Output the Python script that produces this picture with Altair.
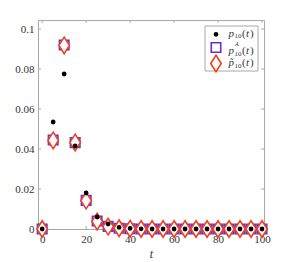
import altair as alt
import pandas as pd

# ---- data ----
t = list(range(0, 101, 5))
p10 = [0, 0.0535, 0.0775, 0.0415, 0.018, 0.006, 0.0025, 0.0008, 0.0003, 0.0001] + [0] * 11
pA = [0, 0.0445, 0.092, 0.0432, 0.0143, 0.0040, 0.0013, 0.0004, 0.0001, 0] + [0] * 11
ptil = [0, 0.0443, 0.0918, 0.0433, 0.0142, 0.0038, 0.0012, 0.0004, 0.0001, 0] + [0] * 11

x_ticks = [0, 20, 40, 60, 80, 100]
y_ticks = [0, 0.02, 0.04, 0.06, 0.08, 0.1]

# ---- styling ----
W, H = 226, 209
PURPLE = "#6a2fd6"
RED = "#f0401c"
GRAY = "#a8a8a8"
TXT = "#333333"
FONT = "Liberation Serif"
DIAMOND = "M0,-1L0.64,0L0,1L-0.64,0Z"
SHAPES = ["circle", "square", DIAMOND]
STROKES = ["black", PURPLE, RED]
FILLS = ["black", "white", "white"]
SIZES = [10, 90, 272]

xs = alt.Scale(domain=[-1.9, 100.9], nice=False, zero=False)
ys = alt.Scale(domain=[0, 0.1045], nice=False)

x_axis = alt.Axis(
    values=x_ticks, title="t", ticks=False, labelPadding=4,
    domainColor=GRAY, labelFont=FONT, labelFontSize=11, labelColor=TXT,
    titleFont=FONT, titleFontStyle="italic", titleFontWeight="normal",
    titleFontSize=12, titleColor=TXT, titlePadding=4, grid=False)
y_axis = alt.Axis(
    values=y_ticks, format=".2~f", title=None, ticks=False, labelPadding=4,
    domainColor=GRAY, labelFont=FONT, labelFontSize=11, labelColor=TXT,
    grid=False)


def series_layer(vals, i):
    d = pd.DataFrame({"t": t, "p": vals})
    return alt.Chart(d).mark_point(
        shape=SHAPES[i], size=SIZES[i], strokeWidth=1.6, opacity=1,
        stroke=STROKES[i], fill=FILLS[i], filled=(i == 0)).encode(
        x=alt.X("t:Q", scale=xs, axis=x_axis),
        y=alt.Y("p:Q", scale=ys, axis=y_axis))


# draw order: squares, diamonds, dots on top
squares = series_layer(pA, 1)
diamonds = series_layer(ptil, 2)
dots = series_layer(p10, 0)

ydf = pd.DataFrame({"v": y_ticks})
xdf = pd.DataFrame({"v": x_ticks})
tick_style = dict(color=GRAY, strokeWidth=1)
left_ticks = alt.Chart(ydf).mark_rule(**tick_style).encode(
    y=alt.Y("v:Q", scale=ys), x=alt.value(0), x2=alt.value(3))
right_ticks = alt.Chart(ydf).mark_rule(**tick_style).encode(
    y=alt.Y("v:Q", scale=ys), x=alt.value(W), x2=alt.value(W - 3))
top_ticks = alt.Chart(xdf).mark_rule(**tick_style).encode(
    x=alt.X("v:Q", scale=xs), y=alt.value(0), y2=alt.value(3))
bottom_ticks = alt.Chart(xdf).mark_rule(**tick_style).encode(
    x=alt.X("v:Q", scale=xs), y=alt.value(H), y2=alt.value(H - 3))

# ---- hand-drawn legend (lets us typeset sub/superscripts) ----
one = pd.DataFrame({"a": [0]})
box = alt.Chart(one).mark_rect(fill="white", stroke=GRAY, strokeWidth=1).encode(
    x=alt.value(167), x2=alt.value(220), y=alt.value(6), y2=alt.value(51))

sym_y = [14.3, 27.5, 43.5]
txt_y = [13.5, 30.5, 43]
sub_dy = [2.8, 3.2, 3.2]
sym_layers = []
for i in range(3):
    sym_layers.append(alt.Chart(one).mark_point(
        shape=SHAPES[i], size=SIZES[i], strokeWidth=1.6, opacity=1,
        stroke=STROKES[i], fill=FILLS[i], filled=(i == 0)).encode(
        x=alt.value(178), y=alt.value(sym_y[i])))


def txt(s, x, y, size=11, italic=True):
    return alt.Chart(one).mark_text(
        text=s, font=FONT, fontSize=size, fontStyle="italic" if italic else "normal",
        color=TXT, align="left", baseline="middle").encode(x=alt.value(x), y=alt.value(y))


txt_layers = []
heads = ["p", "p", "p̃"]
for i in range(3):
    y0 = txt_y[i]
    txt_layers.append(txt(heads[i], 190.5, y0))
    txt_layers.append(txt("10", 196.5, y0 + sub_dy[i], 7, italic=False))
    txt_layers.append(txt("(", 204, y0, italic=False))
    txt_layers.append(txt("t", 208, y0))
    txt_layers.append(txt(")", 212, y0, italic=False))
txt_layers.append(txt("A", 197, txt_y[1] - 6.5, 6))

chart = alt.layer(left_ticks, right_ticks, top_ticks, bottom_ticks,
                  squares, diamonds, dots, box,
                  *sym_layers, *txt_layers).properties(
    width=W, height=H,
    autosize=alt.AutoSizeParams(type="none"),
    padding={"left": 30, "top": 12, "right": 15, "bottom": 30},
    background="white",
).configure_view(stroke=GRAY, strokeWidth=1)

chart.save("out.html", embed_options={"renderer": "svg", "actions": False})
